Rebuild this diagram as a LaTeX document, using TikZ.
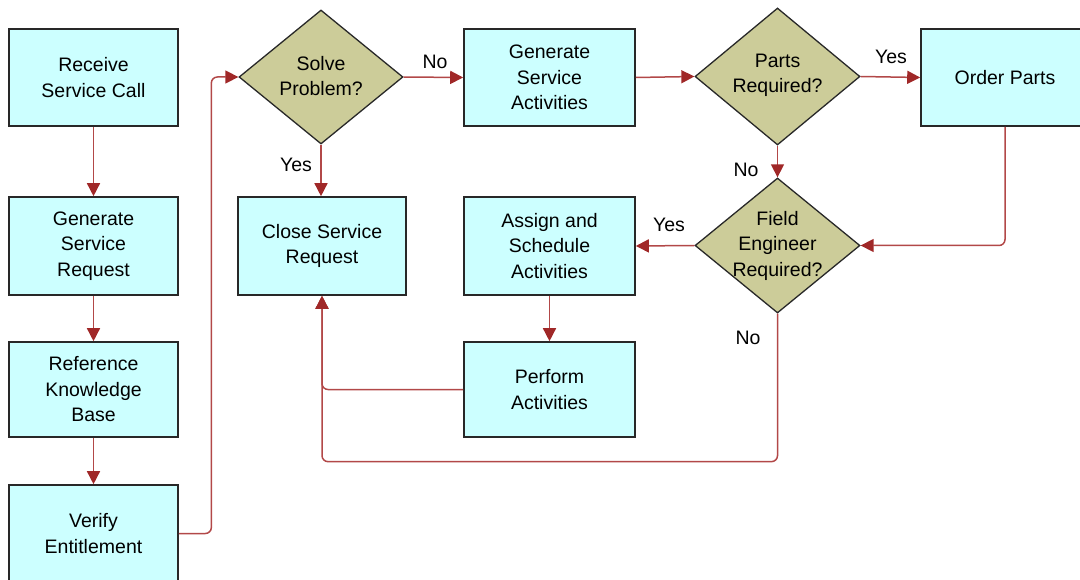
\documentclass[tikz,border=0pt]{standalone}
\usepackage{fontspec}
\setmainfont{Liberation Sans}
\usetikzlibrary{shapes.geometric,arrows.meta}
\definecolor{boxfill}{RGB}{204,255,255}
\definecolor{diafill}{RGB}{204,204,153}
\definecolor{edgecol}{RGB}{40,40,40}
\definecolor{conncol}{RGB}{178,72,72}
\definecolor{tipcol}{RGB}{160,40,40}
\begin{document}
\begin{tikzpicture}[x=1pt,y=-1pt,
 font=\fontsize{19.5}{25.5}\selectfont,
 box/.style={draw=edgecol,line width=1.6pt,fill=boxfill,minimum width=169pt,minimum height=97pt,inner sep=0pt,align=center},
 dia/.style={diamond,draw=edgecol,line width=1.3pt,fill=diafill,inner sep=0pt,minimum width=165pt,minimum height=135pt},
 dtext/.style={align=center,inner sep=0pt},
 conn/.style={draw=conncol,line width=1.5pt,rounded corners=6pt,-{Triangle[length=13pt,width=13pt,fill=tipcol,color=tipcol]}},
 lbl/.style={inner sep=0pt}]
\useasboundingbox (0,0) rectangle (1080,580);
% left column
\node[box] (rsc) at (93.5,77.5) {Receive\\Service Call};
\node[box,minimum height=98pt] (gsr) at (93.5,246) {Generate\\Service\\Request};
\node[box,minimum height=95pt] (rkb) at (93.5,389.5) {Reference\\Knowledge\\Base};
\node[box] (ve) at (93.5,533.5) {Verify\\Entitlement};
% decisions
\node[dia,minimum width=164pt,minimum height=134pt] (solve) at (321,77) {};
\node[dtext] (solvet) at ([yshift=1pt]solve.center) {Solve\\Problem?};
\node[dia,minimum height=137pt] (parts) at (777.5,76.5) {};
\node[dtext] (partst) at ([yshift=1pt]parts.center) {Parts\\Required?};
\node[dia] (fe) at (777.5,245.5) {};
\node[dtext] (fet) at (fe) {Field\\Engineer\\Required?};
% boxes
\node[box,minimum width=168pt,minimum height=98pt] (close) at (322,246) {Close Service\\Request};
\node[box,minimum width=171pt] (gsa) at (549.5,77.5) {Generate\\Service\\Activities};
\node[box,minimum width=168pt] (order) at (1005,77.5) {Order Parts};
\node[box,minimum width=171pt,minimum height=98pt] (asa) at (549.5,246) {Assign and\\Schedule\\Activities};
\node[box,minimum width=171pt,minimum height=95pt] (pa) at (549.5,389.5) {Perform\\Activities};
% connectors
\draw[conn] (rsc) -- (gsr);
\draw[conn] (gsr) -- (rkb);
\draw[conn] (rkb) -- (ve);
\draw[conn] (ve.east) -| ([xshift=-27pt]solve.west) -- (solve.west);
\draw[conn] (solve.south) -- (solve.south |- close.north);
\draw[conn] (solve.east) -- (gsa.west);
\draw[conn] (gsa.east) -- (parts.west);
\draw[conn] (parts.east) -- (order.west);
\draw[conn] (parts.south) -- (fe.north);
\draw[conn] (order.south) |- (fe.east);
\draw[conn] (fe.west) -- (asa.east);
\draw[conn] (asa.south) -- (pa.north);
\draw[conn] (pa.west) -| (close.south);
\draw[conn] (fe.south) -- ++(0,148) -| (close.south);
% labels
\node[lbl] (l1) at (435,62) {No};
\node[lbl] (l2) at (296,165) {Yes};
\node[lbl] (l3) at (891,57) {Yes};
\node[lbl] (l4) at (746,170) {No};
\node[lbl] (l5) at (669,225) {Yes};
\node[lbl] (l6) at (748,338) {No};
\end{tikzpicture}
\end{document}
